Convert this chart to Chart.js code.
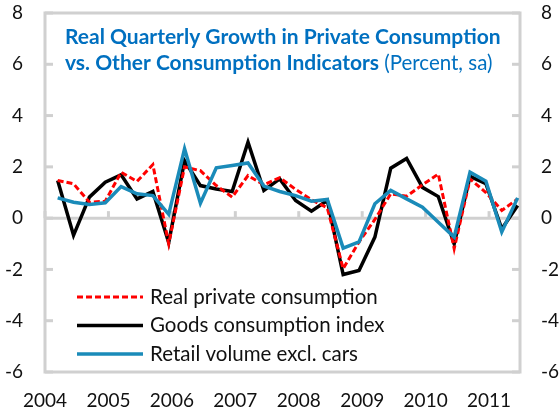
<!DOCTYPE html>
<html>
<head>
<meta charset="utf-8">
<script src="https://cdn.jsdelivr.net/npm/chart.js@4"></script>
<style>
  html, body { margin: 0; padding: 0; background: #fff; }
  canvas { display: block; }
</style>
</head>
<body>
<canvas id="c" width="559" height="412"></canvas>
<script>
// Quarterly growth, 2004Q1 - 2011Q2 (percent, sa)
var years = ["2004", "2005", "2006", "2007", "2008", "2009", "2010", "2011"];
var quarters = [
  "2004Q1", "2004Q2", "2004Q3", "2004Q4", "2005Q1", "2005Q2", "2005Q3", "2005Q4",
  "2006Q1", "2006Q2", "2006Q3", "2006Q4", "2007Q1", "2007Q2", "2007Q3", "2007Q4",
  "2008Q1", "2008Q2", "2008Q3", "2008Q4", "2009Q1", "2009Q2", "2009Q3", "2009Q4",
  "2010Q1", "2010Q2", "2010Q3", "2010Q4", "2011Q1", "2011Q2"
];
var realPrivate = [
  1.47, 1.34, 0.62, 0.66, 1.79, 1.43, 2.09, -1.0, 2.0, 1.85,
  1.27, 0.82, 1.66, 1.3, 1.58, 1.12, 0.72, 0.4, -1.97, -0.93,
  -0.05, 0.95, 0.85, 1.3, 1.72, -1.19, 1.53, 1.0, 0.3, 0.75
];
var goodsIndex = [
  1.47, -0.67, 0.82, 1.4, 1.69, 0.75, 1.04, -0.95, 2.24, 1.27,
  1.14, 1.04, 2.96, 1.08, 1.53, 0.69, 0.27, 0.69, -2.2, -2.04,
  -0.74, 1.95, 2.33, 1.2, 0.84, -1.0, 1.63, 1.34, -0.42, 0.49
];
var retailExCars = [
  0.79, 0.62, 0.53, 0.6, 1.23, 0.95, 0.88, 0.15, 2.7, 0.58,
  1.96, 2.05, 2.15, 1.25, 1.04, 0.88, 0.66, 0.73, -1.17, -0.93,
  0.56, 1.08, 0.75, 0.43, -0.16, -0.74, 1.79, 1.44, -0.54, 0.79
];
var yTicks = [-6, -4, -2, 0, 2, 4, 6, 8];

var FONT = "Lato, 'Open Sans', sans-serif";
var GRAY = "#d0d0d0";
var pts = function (arr) {
  return arr.map(function (v, i) { return { x: i, y: v }; });
};
// keep tick padding from pushing the plot area down
var noVPad = function (s) {
  s.paddingTop = 0;
  s.paddingBottom = 0;
};

// plot frame, zero line and inward tick marks
var frame = {
  id: "frame",
  beforeDatasetsDraw: function (chart) {
    var ctx = chart.ctx, a = chart.chartArea, x = chart.scales.x, y = chart.scales.y;
    var seg = function (x1, y1, x2, y2) {
      ctx.beginPath(); ctx.moveTo(x1, y1); ctx.lineTo(x2, y2); ctx.stroke();
    };
    ctx.save();
    ctx.strokeStyle = GRAY;
    ctx.lineWidth = 3;
    ctx.strokeRect(a.left, a.top, a.right - a.left, a.bottom - a.top);
    var y0 = y.getPixelForValue(0);
    seg(a.left, y0, a.right, y0);
    yTicks.forEach(function (v) {
      var py = y.getPixelForValue(v);
      seg(a.left, py, a.left + 8, py);
      seg(a.right - 8, py, a.right, py);
    });
    x.ticks.forEach(function (t) {
      var px = x.getPixelForValue(t.value);
      seg(px, y0, px, y0 - 7);
    });
    ctx.restore();
  },
  afterDatasetsDraw: function (chart) {
    var ctx = chart.ctx;
    ctx.save();
    // title
    ctx.fillStyle = "#0070c0";
    ctx.textBaseline = "middle";
    ctx.textAlign = "left";
    ctx.font = "bold 21px " + FONT;
    ctx.fillText("Real Quarterly Growth in Private Consumption", 65, 37);
    var t2 = "vs. Other Consumption Indicators";
    ctx.fillText(t2, 65, 63);
    var w = ctx.measureText(t2 + " ").width;
    ctx.font = "20.5px " + FONT;
    ctx.fillText("(Percent, sa)", 65 + w, 63);

    // legend
    ctx.font = "20.5px " + FONT;
    chart.data.datasets.forEach(function (ds, i) {
      var ly = 297 + i * 28.5;
      ctx.strokeStyle = ds.borderColor;
      ctx.lineWidth = ds.borderWidth;
      ctx.setLineDash(ds.borderDash || []);
      ctx.beginPath(); ctx.moveTo(77, ly); ctx.lineTo(143, ly); ctx.stroke();
      ctx.setLineDash([]);
      ctx.fillStyle = "#111";
      ctx.fillText(ds.label, 150, ly);
    });
    ctx.restore();
  }
};

new Chart(document.getElementById("c"), {
  type: "line",
  data: {
    labels: quarters,
    datasets: [
      {
        label: "Real private consumption",
        data: pts(realPrivate),
        borderColor: "#ff0000",
        borderWidth: 3,
        borderDash: [6, 3],
        pointRadius: 0,
        tension: 0,
        order: 1,
      },
      {
        label: "Goods consumption index",
        data: pts(goodsIndex),
        borderColor: "#000000",
        borderWidth: 3.5,
        pointRadius: 0,
        tension: 0,
        order: 2,
      },
      {
        label: "Retail volume excl. cars",
        data: pts(retailExCars),
        borderColor: "#1a8bb9",
        borderWidth: 3.5,
        pointRadius: 0,
        tension: 0,
        order: 0,
      },
    ],
  },
  options: {
    responsive: false,
    animation: false,
    events: [],
    layout: { padding: { top: 13, left: 0, right: 0, bottom: 0 } },
    plugins: { legend: { display: false }, tooltip: { enabled: false } },
    scales: {
      x: {
        type: "linear",
        min: -0.8,
        max: 29.15,
        grid: { display: false, drawTicks: false },
        border: { display: false },
        afterBuildTicks: function (s) {
          s.ticks = years.map(function (yr, k) { return { value: -0.8 + 4 * k }; });
        },
        afterFit: function (s) { s.height = 40; },
        ticks: {
          autoSkip: false,
          maxRotation: 0,
          padding: 17,
          color: "#111",
          font: { family: FONT, size: 19 },
          callback: function (v, i) { return years[i]; },
        },
      },
      y: {
        position: "left",
        min: -6,
        max: 8,
        grid: { display: false, drawTicks: false },
        border: { display: false },
        afterFit: function (s) { s.width = 45; noVPad(s); },
        ticks: { stepSize: 2, padding: 22, color: "#111", font: { family: FONT, size: 19 } },
      },
      y2: {
        position: "right",
        min: -6,
        max: 8,
        grid: { display: false, drawTicks: false },
        border: { display: false },
        afterFit: function (s) { s.width = 39; noVPad(s); },
        ticks: { stepSize: 2, padding: 21, color: "#111", font: { family: FONT, size: 19 } },
      },
    },
  },
  plugins: [frame],
});
</script>
</body>
</html>
